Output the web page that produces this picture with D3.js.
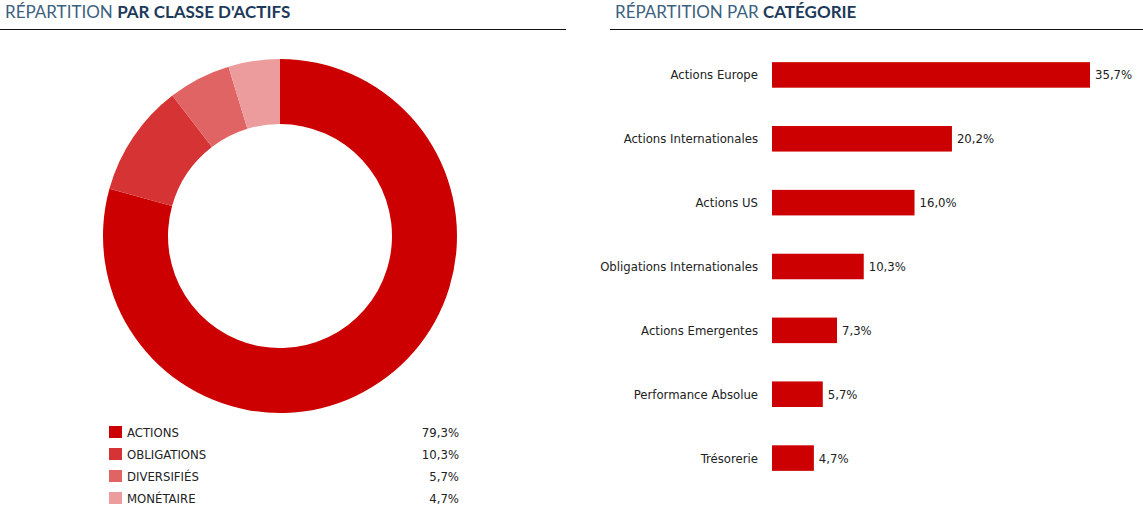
<!DOCTYPE html>
<html><head><meta charset="utf-8">
<script src="https://cdn.jsdelivr.net/npm/d3@7"></script>
<style>
body{margin:0;background:#fff}
text{font-family:"Liberation Sans Narrow","DejaVu Sans Condensed","Roboto Condensed",sans-serif;font-stretch:condensed}
.ttl{font-family:"Lato","Open Sans",sans-serif;font-stretch:normal;font-size:17px}
</style></head><body>
<svg id="c" width="1143" height="522"></svg>
<script>
// donut data
var classes = ["ACTIONS", "OBLIGATIONS", "DIVERSIFIÉS", "MONÉTAIRE"];
var classValues = [79.3, 10.3, 5.7, 4.7];
var classColors = ["#cc0000", "#d63434", "#e06464", "#ec9c9c"];
// bar data
var categories = ["Actions Europe", "Actions Internationales", "Actions US", "Obligations Internationales",
    "Actions Emergentes", "Performance Absolue", "Trésorerie"];
var catValues = [35.7, 20.2, 16.0, 10.3, 7.3, 5.7, 4.7];

var fmt = function (v) { return v.toFixed(1).replace(".", ",") + "%"; };
var svg = d3.select("#c");

// titres
function title(x, light, bold, x0, x1) {
    var t = svg.append("text").attr("class", "ttl").attr("x", x).attr("y", 18);
    t.append("tspan").attr("fill", "#3d5f80").text(light + " ");
    t.append("tspan").attr("fill", "#1d3a5a").attr("font-weight", "bold").text(bold);
    svg.append("line").attr("x1", x0).attr("x2", x1).attr("y1", 29.5).attr("y2", 29.5)
        .attr("stroke", "#111").attr("stroke-width", 1.2);
}
title(5, "RÉPARTITION", "PAR CLASSE D'ACTIFS", 0, 566);
title(615, "RÉPARTITION PAR", "CATÉGORIE", 610, 1143);

// donut
var pie = d3.pie().sort(null).value(function (d) { return d; });
var arc = d3.arc().innerRadius(112).outerRadius(177);
svg.append("g").attr("transform", "translate(280,236)")
    .selectAll("path").data(pie(classValues)).enter().append("path")
    .attr("d", arc).attr("fill", function (d, i) { return classColors[i]; });

// légende
var lg = svg.append("g").selectAll("g").data(classes).enter().append("g")
    .attr("transform", function (d, i) { return "translate(109," + (432 + i * 22) + ")"; });
lg.append("rect").attr("width", 13).attr("height", 12).attr("y", -6)
    .attr("fill", function (d, i) { return classColors[i]; });
lg.append("text").attr("x", 18).attr("dy", "0.35em").attr("font-size", 13).attr("fill", "#222")
    .text(function (d) { return d; });
lg.append("text").attr("x", 350).attr("text-anchor", "end").attr("dy", "0.35em").attr("font-size", 13).attr("fill", "#222")
    .text(function (d, i) { return fmt(classValues[i]); });

// barres
var x = d3.scaleLinear().domain([0, 35.7]).range([772, 1090]);
var y = d3.scaleBand().domain(categories).range([43, 490]).paddingInner(0.6).paddingOuter(0.3);
var bg = svg.append("g").selectAll("g").data(categories).enter().append("g");
bg.append("rect").attr("x", x(0)).attr("y", function (d) { return y(d); })
    .attr("height", y.bandwidth()).attr("width", function (d, i) { return x(catValues[i]) - x(0); })
    .attr("fill", "#cc0000");
bg.append("text").attr("x", 758).attr("y", function (d) { return y(d) + y.bandwidth() / 2; })
    .attr("dy", "0.35em").attr("text-anchor", "end").attr("font-size", 13).attr("fill", "#222")
    .text(function (d) { return d; });
bg.append("text").attr("x", function (d, i) { return x(catValues[i]) + 5; })
    .attr("y", function (d) { return y(d) + y.bandwidth() / 2; })
    .attr("dy", "0.35em").attr("font-size", 13).attr("fill", "#222")
    .text(function (d, i) { return fmt(catValues[i]); });
</script></body></html>
